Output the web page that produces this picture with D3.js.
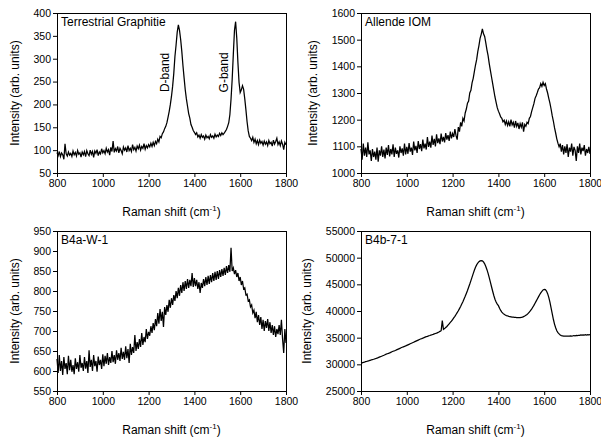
<!DOCTYPE html>
<html>
<head>
<meta charset="utf-8">
<script src="https://cdn.jsdelivr.net/npm/d3@7.9.0/dist/d3.min.js"></script>
<style>
  body { margin: 0; background: #fff; }
  svg { display: block; font-family: "Liberation Sans", Arial, sans-serif; }
</style>
</head>
<body>
<svg id="chart" width="601" height="438"></svg>
<script>
// spectra sampled every 5 cm-1 from 800 to 1800
const shiftStart = 800;
const shiftStep = 5;

const graphite = [
  95, 88, 97, 86, 94, 90, 80, 114, 92, 87, 96, 89, 93, 86, 98, 90, 95, 87, 99, 91,
  94, 85, 96, 90, 97, 86, 99, 92, 88, 100, 91, 97, 84, 98, 93, 101, 88, 96, 92, 103, 94,
  99, 92, 104, 96, 101, 89, 106, 97, 120, 95, 103, 98, 108, 94, 104, 99, 92, 107, 100,
  105, 96, 110, 99, 104, 97, 112, 101, 106, 98, 109, 103, 111, 100, 108, 104, 114, 102, 110, 105, 112,
  107, 115, 108, 117, 110, 119, 114, 124, 118, 130, 127, 136, 140, 147, 152, 160, 172, 185, 200, 218,
  240, 268, 305, 330, 358, 374, 362, 342, 316, 285, 258, 232, 212, 196, 180, 170, 156, 150, 143, 139,
  134, 138, 129, 133, 126, 134, 128, 131, 124, 133, 127, 130, 125, 134, 128, 131, 126, 135, 129, 133,
  130, 137, 132, 138, 134, 137, 141, 145, 152, 160, 178, 212, 255, 310, 362, 381, 345, 292, 248, 226,
  232, 241, 233, 212, 188, 162, 142, 130, 126, 121, 128, 117, 124, 114, 121, 112, 122, 115, 119, 111,
  120, 113, 118, 110, 121, 114, 117, 109, 122, 113, 119, 126, 112, 118, 110, 120, 113, 101, 117, 112
];

const allende = [
  1090, 1050, 1110, 1065, 1095, 1060, 1115, 1070, 1085, 1045, 1090, 1060, 1080, 1050, 1095, 1042, 1085, 1065, 1100, 1060,
  1088, 1055, 1095, 1068, 1105, 1062, 1090, 1070, 1108, 1060, 1095, 1072, 1085, 1058, 1100, 1075, 1092, 1065, 1110, 1070, 1098,
  1072, 1112, 1080, 1095, 1068, 1118, 1085, 1102, 1075, 1120, 1090, 1108, 1082, 1125, 1092, 1110, 1088, 1135, 1098, 1118,
  1095, 1140, 1105, 1128, 1100, 1145, 1112, 1130, 1108, 1148, 1118, 1135, 1115, 1150, 1125, 1142, 1120, 1155, 1130, 1148,
  1135, 1165, 1140, 1125, 1172, 1155, 1190, 1175, 1205, 1195, 1225, 1240, 1262, 1270, 1300, 1310, 1338, 1355, 1380, 1405,
  1425, 1455, 1478, 1505, 1520, 1540, 1522, 1512, 1488, 1462, 1440, 1410, 1385, 1360, 1335, 1310, 1285, 1265, 1245, 1232,
  1222, 1210, 1205, 1192, 1198, 1182, 1195, 1178, 1192, 1175, 1200, 1180, 1190, 1170, 1195, 1175, 1188, 1165, 1185, 1172,
  1190, 1155, 1182, 1175, 1190, 1185, 1205, 1212, 1230, 1245, 1260, 1280, 1290, 1302, 1315, 1320, 1335, 1325, 1340, 1328,
  1335, 1315, 1300, 1280, 1262, 1240, 1215, 1195, 1170, 1150, 1128, 1112, 1098, 1110, 1080, 1105, 1070, 1100, 1075, 1108,
  1060, 1095, 1080, 1110, 1065, 1098, 1085, 1045, 1100, 1075, 1110, 1070, 1095, 1082, 1105, 1065, 1090, 1075, 1098, 1072
];

const b4aW1 = [
  630, 595, 640, 600, 625, 590, 635, 605, 620, 592, 638, 602, 628, 598, 615, 592, 632, 605, 622, 598,
  640, 608, 620, 600, 635, 606, 625, 595, 652, 610, 628, 600, 640, 612, 625, 598, 636, 615, 628, 605, 642,
  612, 638, 618, 645, 615, 635, 620, 650, 622, 640, 618, 652, 628, 645, 625, 658, 630, 648, 628,
  662, 632, 655, 620, 668, 640, 660, 645, 690, 650, 672, 655, 680, 660, 695, 665, 685, 672, 705, 680, 698,
  688, 712, 695, 720, 702, 730, 712, 745, 718, 755, 725, 748, 710, 760, 740, 765, 748, 778, 758, 782,
  765, 790, 775, 800, 782, 808, 788, 815, 795, 822, 800, 825, 805, 830, 808, 828, 812, 845, 810, 832,
  812, 828, 805, 822, 795, 820, 808, 830, 812, 835, 815, 838, 818, 840, 822, 845, 825, 848, 828, 850,
  830, 852, 835, 855, 838, 858, 840, 862, 845, 865, 848, 908, 850, 858, 842, 852, 835, 845, 825, 835,
  815, 825, 805, 808, 790, 792, 775, 778, 760, 765, 745, 752, 732, 748, 722, 740, 715, 735, 705, 728,
  700, 725, 708, 730, 700, 722, 695, 715, 690, 712, 685, 705, 692, 715, 690, 728, 680, 645, 705, 670
];

const b4b71 = [
  30200, 30280, 30350, 30420, 30500, 30550, 30620, 30680, 30750, 30820, 30900, 30950, 31020, 31100, 31180, 31260, 31350, 31430, 31520, 31610,
  31700, 31800, 31900, 31980, 32060, 32150, 32250, 32350, 32450, 32520, 32600, 32700, 32800, 32900, 33000, 33100, 33200, 33280, 33360, 33450, 33550,
  33650, 33750, 33850, 33950, 34050, 34150, 34250, 34350, 34450, 34550, 34650, 34750, 34820, 34900, 35000, 35100, 35180, 35250, 35330,
  35400, 35480, 35550, 35620, 35700, 35780, 35850, 35950, 36050, 36180, 36300, 38200, 36550, 36700, 36900, 37100, 37350, 37600, 37850, 38100, 38400,
  38700, 39000, 39350, 39700, 40050, 40450, 40850, 41300, 41750, 42250, 42750, 43300, 43850, 44450, 45050, 45700, 46350, 47000, 47650, 48200,
  48650, 49000, 49250, 49400, 49450, 49400, 49200, 48850, 48350, 47750, 47050, 46250, 45400, 44550, 43700, 42900, 42200, 41700, 41300, 41000,
  40500, 40100, 39800, 39550, 39400, 39250, 39150, 39100, 39000, 38950, 38900, 38850, 38850, 38800, 38800, 38750, 38750, 38750, 38750, 38800,
  38850, 38950, 39050, 39200, 39350, 39550, 39800, 40050, 40350, 40700, 41050, 41450, 41850, 42250, 42650, 43050, 43400, 43700, 43950, 44050,
  44000, 43750, 43250, 42550, 41650, 40600, 39500, 38450, 37550, 36850, 36300, 35950, 35700, 35500, 35400, 35350, 35300, 35300, 35300, 35300,
  35280, 35300, 35350, 35300, 35320, 35400, 35350, 35420, 35380, 35450, 35420, 35500, 35460, 35520, 35480, 35550, 35500, 35560, 35520, 35550
];

const xTicks = [800, 1000, 1200, 1400, 1600, 1800];
const graphiteTicks = [50, 100, 150, 200, 250, 300, 350, 400];
const allendeTicks = [1000, 1100, 1200, 1300, 1400, 1500, 1600];
const b4aTicks = [550, 600, 650, 700, 750, 800, 850, 900, 950];
const b4bTicks = [25000, 30000, 35000, 40000, 45000, 50000, 55000];

const bandLabels = ['D-band', 'G-band'];
const bandLabelShift = [1288, 1547];

const panels = [
  { name: 'Terrestrial Graphitie', values: graphite, ticks: graphiteTicks, left: 57, top: 13, labelX: -42 },
  { name: 'Allende IOM', values: allende, ticks: allendeTicks, left: 361, top: 13, labelX: -48 },
  { name: 'B4a-W-1', values: b4aW1, ticks: b4aTicks, left: 57, top: 231, labelX: -42 },
  { name: 'B4b-7-1', values: b4b71, ticks: b4bTicks, left: 361, top: 231, labelX: -54 }
];

const width = 229;
const height = 160;
const fmt = d3.format('d');

const svg = d3.select('#chart');

panels.forEach((p, idx) => {
  const g = svg.append('g').attr('transform', `translate(${p.left},${p.top})`);

  const x = d3.scaleLinear().domain([800, 1800]).range([0, width]);
  const y = d3.scaleLinear().domain(d3.extent(p.ticks)).range([height, 0]);

  // axes
  const xAxis = g.append('g')
    .attr('transform', `translate(0,${height})`)
    .call(d3.axisBottom(x).tickValues(xTicks).tickFormat(fmt).tickSize(4).tickPadding(3).tickSizeOuter(0));
  const yAxis = g.append('g')
    .call(d3.axisLeft(y).tickValues(p.ticks).tickFormat(fmt).tickSize(4).tickPadding(2).tickSizeOuter(0));

  [xAxis, yAxis].forEach(a => {
    a.select('.domain').remove();
    a.selectAll('line').attr('stroke', '#000');
    a.selectAll('text').attr('fill', '#000').style('font-size', '10.5px');
  });

  // box
  g.append('rect')
    .attr('x', 0.5).attr('y', 0.5)
    .attr('width', width).attr('height', height)
    .attr('fill', 'none').attr('stroke', '#000').attr('stroke-width', 1);

  // spectrum
  const line = d3.line()
    .x((d, i) => x(shiftStart + i * shiftStep))
    .y(d => y(d));

  g.append('path')
    .datum(p.values)
    .attr('d', line)
    .attr('fill', 'none')
    .attr('stroke', '#000')
    .attr('stroke-width', 1.25);

  // panel name
  g.append('text')
    .attr('x', 4).attr('y', 13)
    .style('font-size', '12px')
    .text(p.name);

  // axis titles
  g.append('text')
    .attr('transform', `translate(${p.labelX},${height / 2}) rotate(-90)`)
    .attr('text-anchor', 'middle')
    .attr('dy', '0.35em')
    .style('font-size', '12px')
    .text('Intensity (arb. units)');

  const xt = g.append('text')
    .attr('x', width / 2).attr('y', height + 43)
    .attr('text-anchor', 'middle')
    .style('font-size', '12px');
  xt.append('tspan').text('Raman shift (cm');
  xt.append('tspan').attr('dy', -5).style('font-size', '8px').text('-1');
  xt.append('tspan').attr('dy', 5).text(')');

  if (idx === 0) {
    bandLabels.forEach((t, i) => {
      g.append('text')
        .attr('transform', `translate(${x(bandLabelShift[i])},${y(270)}) rotate(-90)`)
        .attr('text-anchor', 'middle')
        .style('font-size', '12px')
        .text(t);
    });
  }
});
</script>
</body>
</html>
